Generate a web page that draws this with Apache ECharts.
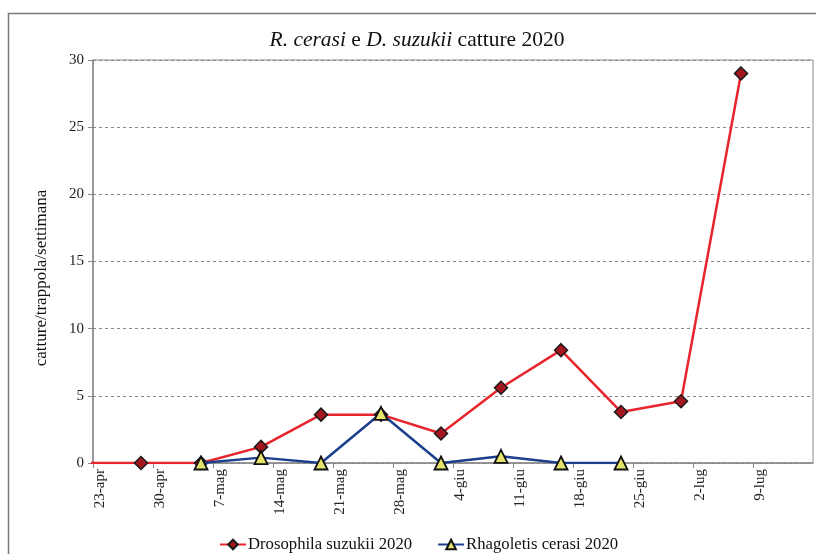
<!DOCTYPE html>
<html>
<head>
<meta charset="utf-8">
<script src="https://cdn.jsdelivr.net/npm/echarts@6/dist/echarts.min.js"></script>
<style>
html,body{margin:0;padding:0;background:#fff;}
#chart{width:816px;height:554px;}
</style>
</head>
<body>
<div id="chart"></div>
<script>
// Tick labels of the weekly date axis (days after 23-apr: 0, 7, 14, ...)
const xTickLabels = ['23-apr','30-apr','7-mag','14-mag','21-mag','28-mag','4-giu','11-giu','18-giu','25-giu','2-lug','9-lug',''];
// Sampling positions (days after 23-apr)
const sampleDays = [-1.4, 5.6, 12.6, 19.6, 26.6, 33.6, 40.6, 47.6, 54.6, 61.6, 68.6, 75.6];
// Captures per trap per week
const drosophila = [0, 0, 0, 1.2, 3.6, 3.6, 2.2, 5.6, 8.4, 3.8, 4.6, 29];
const rhagoletis = [null, null, 0, 0.4, 0, 3.7, 0, 0.5, 0, 0, null, null];
const yTicks = [0, 5, 10, 15, 20, 25, 30];

const serif = '"Liberation Serif","Times New Roman",serif';
const toPairs = arr => sampleDays.map((d, i) => [d, arr[i]]).filter(p => p[1] !== null);

const chart = echarts.init(document.getElementById('chart'), null, {renderer: 'canvas'});
chart.setOption({
  animation: false,
  backgroundColor: '#fff',
  textStyle: {fontFamily: serif},
  graphic: [
    {type: 'rect', shape: {x: 8.5, y: 13.5, width: 820, height: 560},
     style: {fill: 'none', stroke: '#7a7a7a', lineWidth: 1.5}, silent: true, z: -1},
    {type: 'text', x: 42, y: 278, rotation: Math.PI / 2,
     style: {text: 'catture/trappola/settimana', font: '17px ' + serif, fill: '#111',
             align: 'center', verticalAlign: 'middle'}}
  ],
  title: {
    text: '{i|R. cerasi} e {i|D. suzukii} catture 2020',
    left: 412, top: 24, textAlign: 'center',
    textStyle: {
      fontFamily: serif, fontSize: 21.5, fontWeight: 'normal', color: '#111',
      rich: {i: {fontFamily: serif, fontSize: 21.5, fontStyle: 'italic', color: '#111'}}
    }
  },
  grid: {left: 93, right: 3, top: 60, bottom: 91, show: true, borderColor: '#888', borderWidth: 1},
  xAxis: {
    type: 'value', min: 0, max: 84, interval: 7,
    axisLine: {show: true, lineStyle: {color: '#888', width: 1.5}},
    axisTick: {show: true, length: 5, lineStyle: {color: '#888'}},
    splitLine: {show: false},
    axisLabel: {
      rotate: 90, margin: 6, fontFamily: serif, fontSize: 15, color: '#222',
      verticalAlign: 'top', showMaxLabel: false,
      formatter: v => xTickLabels[Math.round(v / 7)] || ''
    }
  },
  yAxis: {
    type: 'value', min: yTicks[0], max: yTicks[yTicks.length - 1], interval: 5,
    axisLine: {show: true, lineStyle: {color: '#888', width: 1.5}},
    axisTick: {show: true, length: 5, lineStyle: {color: '#888'}},
    splitLine: {show: true, lineStyle: {color: '#888', type: [3, 3], width: 1}},
    axisLabel: {fontFamily: serif, fontSize: 15, color: '#222', margin: 9}
  },
  legend: {
    top: 531, left: 214, itemGap: 25, itemWidth: 26, itemHeight: 12,
    textStyle: {fontFamily: serif, fontSize: 16.7, color: '#111', padding: [0, 0, 0, -3]},
    data: ['Drosophila suzukii 2020', 'Rhagoletis cerasi 2020']
  },
  series: [
    {
      name: 'Drosophila suzukii 2020', type: 'line', data: toPairs(drosophila),
      clip: true, symbol: 'diamond', symbolSize: 13, z: 2,
      lineStyle: {color: '#e8242c', width: 2.5},
      itemStyle: {color: '#a3161f', borderColor: '#1a1a1a', borderWidth: 1.5},
      color: '#e8242c'
    },
    {
      name: 'Rhagoletis cerasi 2020', type: 'line', data: toPairs(rhagoletis),
      clip: true, symbol: 'triangle', symbolSize: 13, z: 3,
      lineStyle: {color: '#1c3f8c', width: 2.5},
      itemStyle: {color: '#e4e46a', borderColor: '#111', borderWidth: 1.8},
      color: '#1c3f8c'
    }
  ]
});
</script>
</body>
</html>
